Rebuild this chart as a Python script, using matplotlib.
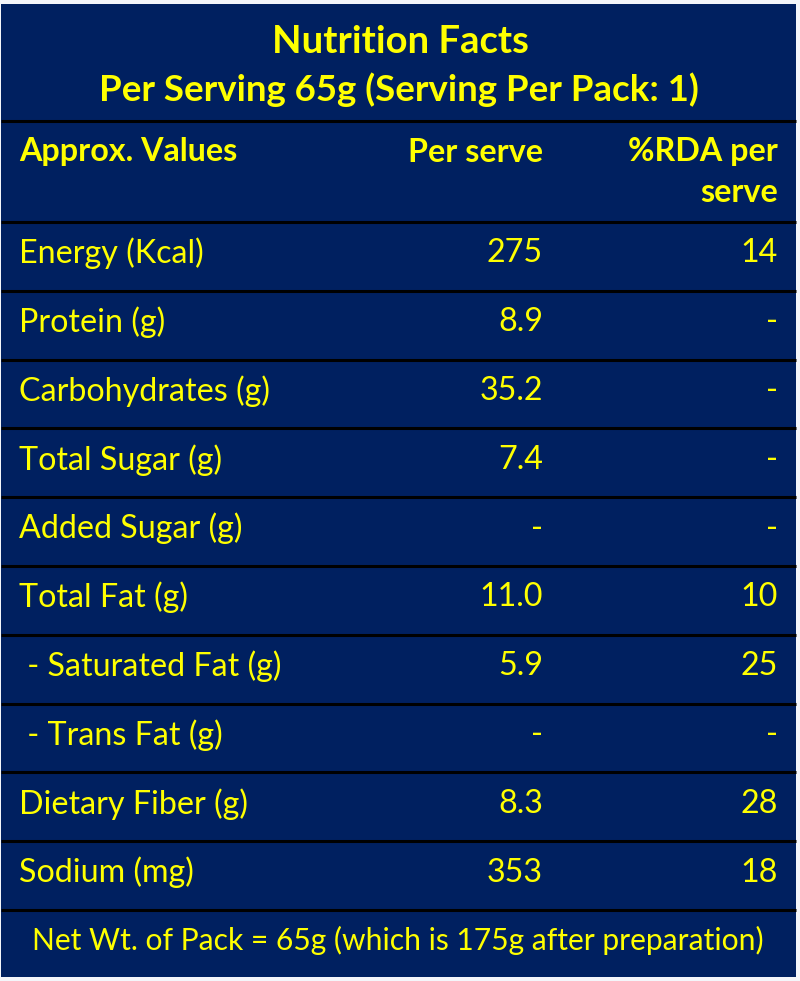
import matplotlib
matplotlib.use('Agg')
import matplotlib.pyplot as plt
from matplotlib.patches import Rectangle

# table content
title = 'Nutrition Facts'
subtitle = 'Per Serving 65g (Serving Per Pack: 1)'
headers = ['Approx. Values', 'Per serve', '%RDA per', 'serve']
nutrients = ['Energy (Kcal)', 'Protein (g)', 'Carbohydrates (g)', 'Total Sugar (g)',
             'Added Sugar (g)', 'Total Fat (g)', ' - Saturated Fat (g)', ' - Trans Fat (g)',
             'Dietary Fiber (g)', 'Sodium (mg)']
per_serve = ['275', '8.9', '35.2', '7.4', '-', '11.0', '5.9', '-', '8.3', '353']
rda = ['14', '-', '-', '-', '-', '10', '25', '-', '28', '18']
footer = 'Net Wt. of Pack = 65g (which is 175g after preparation)'

NAVY = '#002060'
YELLOW = '#ffff00'
FONT = 'Lato'
FS = 23.2

fig = plt.figure(figsize=(8, 9.81), dpi=100)
fig.patch.set_facecolor('#f4f6fa')
ax = fig.add_axes([0, 0, 1, 1])
ax.set_xlim(0, 800)
ax.set_ylim(981, 0)
ax.axis('off')

top, bottom, left, right = 4, 977, 1, 796
ax.add_patch(Rectangle((left, top), right - left, bottom - top, facecolor=NAVY, edgecolor='none'))

# row boundaries
title_bot = 121
head_bot = 222
row_h = 68.8
lines = [title_bot, head_bot] + [head_bot + row_h * (i + 1) for i in range(len(nutrients))]
for y in lines:
    ax.plot([left, right], [y, y], color='black', lw=2.2, solid_capstyle='butt')

# title
ax.text(400, 42, title, ha='center', va='center', color=YELLOW, fontsize=27.5,
        fontweight='bold', family=FONT)
ax.text(399, 90, subtitle, ha='center', va='center', color=YELLOW, fontsize=26.4,
        fontweight='bold', family=FONT)

# header
col_x = [19, 543, 778]
ax.text(col_x[0], 152, headers[0], ha='left', va='center', color=YELLOW, fontsize=FS,
        fontweight='bold', family=FONT)
ax.text(col_x[1], 152, headers[1], ha='right', va='center', color=YELLOW, fontsize=FS,
        fontweight='bold', family=FONT)
ax.text(col_x[2], 152, headers[2], ha='right', va='center', color=YELLOW, fontsize=FS,
        fontweight='bold', family=FONT)
ax.text(col_x[2], 192, headers[3], ha='right', va='center', color=YELLOW, fontsize=FS,
        fontweight='bold', family=FONT)

# body rows
for i, name in enumerate(nutrients):
    yc = head_bot + row_h * i + row_h / 2 - 3
    ax.text(col_x[0], yc, name, ha='left', va='center', color=YELLOW, fontsize=FS, family=FONT)
    ax.text(col_x[1], yc, per_serve[i], ha='right', va='center', color=YELLOW, fontsize=FS, family=FONT)
    ax.text(col_x[2], yc, rda[i], ha='right', va='center', color=YELLOW, fontsize=FS, family=FONT)

# footer
ax.text(398, 940, footer, ha='center', va='center', color=YELLOW, fontsize=21.6, family=FONT)

fig.savefig('out.png', dpi=100, facecolor=fig.get_facecolor())
